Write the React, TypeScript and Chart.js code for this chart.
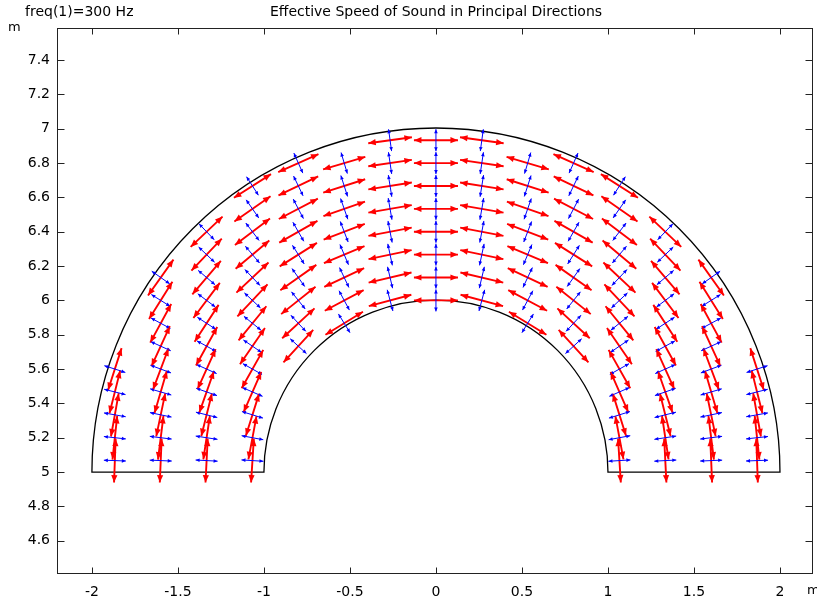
import { useEffect, useRef } from "react";
import { Chart, registerables } from "chart.js";

Chart.register(...registerables);

// Sample grid (m)
const gridX = [-1.8667, -1.6, -1.3333, -1.0667, -0.8, -0.5333, -0.2667, 0, 0.2667, 0.5333, 0.8, 1.0667, 1.3333, 1.6, 1.8667];
const gridY = [5.0667, 5.2, 5.3333, 5.4667, 5.6, 5.7333, 5.8667, 6.0, 6.1333, 6.2667, 6.4, 6.5333, 6.6667, 6.8, 6.9333];
// Rows (index into gridY) that carry arrows, per column
const firstRow = [0, 0, 0, 0, 5, 6, 7, 7, 7, 6, 5, 0, 0, 0, 0];
const lastRow = [4, 8, 10, 12, 13, 13, 14, 14, 14, 13, 13, 12, 10, 8, 4];

// Geometry of the half annulus
const centreX = 0;
const centreY = 5;
const innerRadius = 1;
const outerRadius = 2;

// Arrow lengths (m)
const redLength = 0.256;
const blueLength = 0.128;

const xTicks = [-2, -1.5, -1, -0.5, 0, 0.5, 1, 1.5, 2];
const yTicks = [4.6, 4.8, 5, 5.2, 5.4, 5.6, 5.8, 6, 6.2, 6.4, 6.6, 6.8, 7, 7.2, 7.4];

const titleText = "Effective Speed of Sound in Principal Directions";
const freqText = "freq(1)=300 Hz";
const unitText = "m";

type Pt = { x: number; y: number | null };

function buildArrows(len: number, radial: boolean): Pt[] {
  const out: Pt[] = [];
  for (let c = 0; c < gridX.length; c++) {
    for (let r = firstRow[c]; r <= lastRow[c]; r++) {
      const x = gridX[c];
      const y = gridY[r];
      const dx = x - centreX;
      const dy = y - centreY;
      const rr = Math.hypot(dx, dy);
      let ux = dx / rr;
      let uy = dy / rr;
      if (!radial) {
        const t = ux;
        ux = -uy;
        uy = t;
      }
      out.push({ x: x - (ux * len) / 2, y: y - (uy * len) / 2 });
      out.push({ x: x + (ux * len) / 2, y: y + (uy * len) / 2 });
      out.push({ x, y: null });
    }
  }
  return out;
}

const FONT = "DejaVu Sans";

function drawHead(ctx: CanvasRenderingContext2D, tx: number, ty: number, fx: number, fy: number, len: number, hw: number) {
  const a = Math.atan2(ty - fy, tx - fx);
  const c = Math.cos(a);
  const s = Math.sin(a);
  ctx.beginPath();
  ctx.moveTo(tx, ty);
  ctx.lineTo(tx - len * c + hw * s, ty - len * s - hw * c);
  ctx.lineTo(tx - len * c - hw * s, ty - len * s + hw * c);
  ctx.closePath();
  ctx.fill();
}

const headSizes: Record<string, [number, number, string]> = {
  tangential: [7.5, 3.1, "rgb(255,0,0)"],
  radial: [4, 1.8, "rgb(0,0,255)"],
};

const decorPlugin = {
  id: "decor",
  beforeDatasetsDraw(chart: any) {
    const ctx = chart.ctx as CanvasRenderingContext2D;
    const xs = chart.scales.x;
    const ys = chart.scales.y;
    const cx = xs.getPixelForValue(centreX);
    const cy = ys.getPixelForValue(centreY);
    const rOut = xs.getPixelForValue(centreX + outerRadius) - cx;
    const rIn = xs.getPixelForValue(centreX + innerRadius) - cx;
    ctx.save();
    ctx.strokeStyle = "#000";
    ctx.lineWidth = 1.3;
    ctx.beginPath();
    ctx.moveTo(cx - rOut, cy);
    ctx.arc(cx, cy, rOut, Math.PI, 2 * Math.PI, false);
    ctx.lineTo(cx + rIn, cy);
    ctx.arc(cx, cy, rIn, 0, Math.PI, true);
    ctx.closePath();
    ctx.stroke();
    ctx.restore();
  },
  afterDatasetsDraw(chart: any) {
    const ctx = chart.ctx as CanvasRenderingContext2D;
    ctx.save();
    chart.data.datasets.forEach((ds: any, i: number) => {
      const hs = headSizes[ds.label];
      if (!hs) return;
      const pts = chart.getDatasetMeta(i).data;
      ctx.fillStyle = hs[2];
      for (let j = 0; j + 1 < pts.length; j += 3) {
        const a = pts[j];
        const b = pts[j + 1];
        drawHead(ctx, b.x, b.y, a.x, a.y, hs[0], hs[1]);
        drawHead(ctx, a.x, a.y, b.x, b.y, hs[0], hs[1]);
      }
    });
    ctx.restore();
  },
  afterDraw(chart: any) {
    const ctx = chart.ctx as CanvasRenderingContext2D;
    const { left, right, top, bottom } = chart.chartArea;
    const xs = chart.scales.x;
    const ys = chart.scales.y;
    ctx.save();
    ctx.strokeStyle = "#222";
    ctx.lineWidth = 1;
    const L = Math.round(left) + 0.5;
    const R = Math.round(right) - 0.5;
    const T = Math.round(top) + 0.5;
    const B = Math.round(bottom) - 0.5;
    ctx.strokeRect(L, T, R - L, B - T);
    ctx.beginPath();
    xTicks.forEach((v) => {
      const p = Math.round(xs.getPixelForValue(v)) + 0.5;
      ctx.moveTo(p, B);
      ctx.lineTo(p, B - 6);
      ctx.moveTo(p, T);
      ctx.lineTo(p, T + 6);
    });
    yTicks.forEach((v) => {
      const p = Math.round(ys.getPixelForValue(v)) + 0.5;
      ctx.moveTo(L, p);
      ctx.lineTo(L + 7, p);
      ctx.moveTo(R, p);
      ctx.lineTo(R - 7, p);
    });
    ctx.stroke();

    ctx.fillStyle = "#000";
    ctx.textBaseline = "middle";
    ctx.font = `14px "${FONT}"`;
    ctx.textAlign = "center";
    ctx.fillText(titleText, (left + right) / 2 + 1, 12);
    ctx.textAlign = "left";
    ctx.fillText(freqText, 25, 12);
    ctx.font = `13px "${FONT}"`;
    ctx.fillText(unitText, 8, 28);
    ctx.fillText(unitText, 807, 591);
    ctx.restore();
  },
};

export default function App() {
  const ref = useRef<HTMLCanvasElement>(null);
  useEffect(() => {
    document.body.style.margin = "0";
    const chart = new Chart(ref.current!, {
      type: "scatter",
      data: {
        datasets: [
          {
            label: "radial",
            data: buildArrows(blueLength, true) as any,
            showLine: true,
            spanGaps: false,
            pointRadius: 0,
            borderColor: "rgb(0,0,255)",
            borderWidth: 1,
          },
          {
            label: "tangential",
            data: buildArrows(redLength, false) as any,
            showLine: true,
            spanGaps: false,
            pointRadius: 0,
            borderColor: "rgb(255,0,0)",
            borderWidth: 1.9,
          },
        ],
      },
      options: {
        animation: false,
        responsive: true,
        maintainAspectRatio: false,
        events: [],
        layout: { padding: { top: 28, right: 4, left: 0, bottom: 0 } },
        plugins: { legend: { display: false }, tooltip: { enabled: false }, title: { display: false } },
        scales: {
          x: {
            type: "linear",
            min: -2.203,
            max: 2.192,
            grid: { display: false, drawTicks: false },
            border: { display: false },
            ticks: {
              color: "#000",
              font: { family: FONT, size: 14 },
              padding: 10,
              autoSkip: false,
              maxRotation: 0,
              callback: (v: any) => String(v),
            },
            afterBuildTicks: (s: any) => {
              s.ticks = xTicks.map((v) => ({ value: v }));
            },
            afterFit: (s: any) => {
              s.height = 23;
            },
          },
          y: {
            type: "linear",
            min: 4.406,
            max: 7.587,
            grid: { display: false, drawTicks: false },
            border: { display: false },
            ticks: {
              color: "#000",
              font: { family: FONT, size: 14 },
              padding: 7,
              autoSkip: false,
              callback: (v: any) => String(v),
            },
            afterBuildTicks: (s: any) => {
              s.ticks = yTicks.map((v) => ({ value: v }));
            },
            afterFit: (s: any) => {
              s.width = 57;
            },
          },
        },
      },
      plugins: [decorPlugin],
    });
    return () => chart.destroy();
  }, []);
  return (
    <div style={{ position: "relative", width: 817, height: 597 }}>
      <canvas ref={ref} />
    </div>
  );
}
